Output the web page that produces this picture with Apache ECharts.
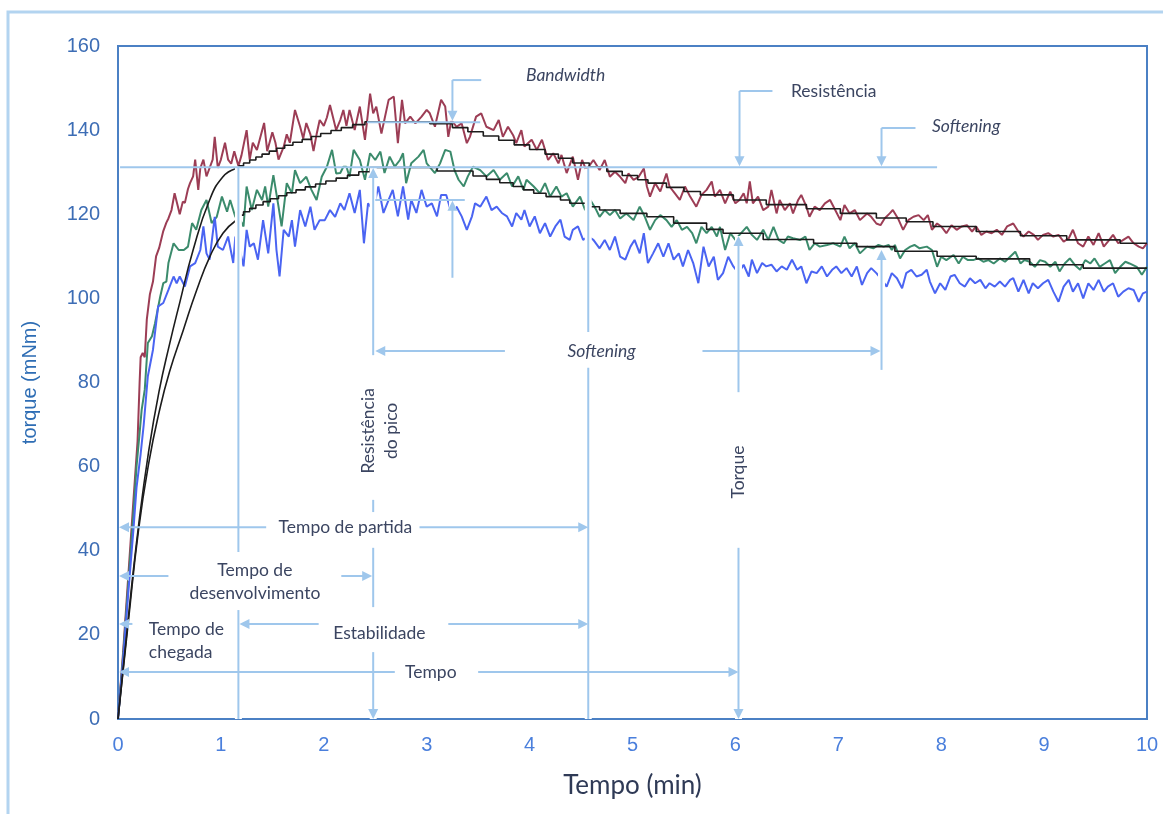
<!DOCTYPE html>
<html><head><meta charset="utf-8">
<script src="https://cdn.jsdelivr.net/npm/echarts@6/dist/echarts.min.js"></script>
<style>html,body{margin:0;padding:0;background:#fff}#c{width:1163px;height:814px}</style>
</head><body><div id="c"></div><script>
// ---- data: [time (min), torque (mNm)] ----
const redCurve = [[0,0],[0.05,16],[0.1,34],[0.15,52],[0.19,66],[0.21,80],[0.22,86],[0.24,87],[0.26,86],[0.28,95],[0.31,101],[0.34,104],[0.37,110],[0.4,112],[0.44,116],[0.47,118],[0.49,119],[0.52,121],[0.55,125],[0.58,122],[0.6,120],[0.63,123],[0.65,122.7],[0.68,126],[0.7,127.4],[0.73,129],[0.75,133],[0.78,125.8],[0.8,131],[0.83,133],[0.86,129],[0.89,131],[0.92,133],[0.94,138.4],[0.97,131],[1.0,133],[1.04,137],[1.07,133],[1.1,132],[1.13,135],[1.17,131.5],[1.2,134],[1.25,140],[1.28,133],[1.31,137],[1.35,135.3],[1.38,138],[1.42,141.7],[1.45,135],[1.5,139.5],[1.53,137],[1.56,133],[1.61,136],[1.64,139],[1.67,137],[1.72,144.8],[1.77,140.8],[1.8,138],[1.83,141.7],[1.87,139],[1.9,135],[1.93,139],[1.96,142.4],[2.0,141],[2.03,143],[2.06,146],[2.09,143],[2.12,140],[2.16,142.4],[2.19,144.8],[2.22,141],[2.25,144.8],[2.3,140],[2.35,145.6],[2.4,137.7],[2.45,148.7],[2.48,144],[2.51,145.6],[2.56,139.2],[2.63,147.2],[2.68,148],[2.72,136.9],[2.76,147.2],[2.79,141.6],[2.84,143.2],[2.89,141.6],[2.95,143.2],[3.0,144.8],[3.03,144],[3.08,140.8],[3.14,147.2],[3.18,145.6],[3.21,138.4],[3.24,142.4],[3.29,140.8],[3.34,141.6],[3.39,136.9],[3.42,138.4],[3.48,143.2],[3.53,144],[3.58,140.8],[3.65,140],[3.7,142.4],[3.74,138.4],[3.79,140.8],[3.84,138.8],[3.87,136.9],[3.92,140],[3.95,136.1],[4.02,137.7],[4.07,135.3],[4.12,137.7],[4.18,132.9],[4.23,134.5],[4.28,132.1],[4.31,134.1],[4.36,129.8],[4.42,133.7],[4.47,128.2],[4.51,132.9],[4.55,130.5],[4.62,132.9],[4.68,130.5],[4.73,132.9],[4.78,128.9],[4.83,130.1],[4.88,128.9],[4.93,127.4],[4.96,129.7],[5.01,128.2],[5.06,128.9],[5.11,130.9],[5.14,126.6],[5.17,124.2],[5.22,127.4],[5.27,125.4],[5.33,129.7],[5.36,126.6],[5.41,125],[5.46,123.4],[5.51,126.6],[5.56,124.2],[5.62,121.8],[5.67,124.6],[5.72,125.8],[5.77,127.8],[5.8,124.2],[5.85,125.8],[5.9,122.6],[5.95,125.4],[6.0,122.6],[6.04,123.4],[6.08,125],[6.11,122.6],[6.14,127.8],[6.17,122.6],[6.22,124.2],[6.27,121],[6.32,121.8],[6.35,125.8],[6.4,120.2],[6.43,123.4],[6.48,121],[6.53,122.6],[6.56,120.2],[6.61,123.4],[6.64,124.6],[6.69,121.8],[6.72,119.4],[6.77,121.8],[6.82,121],[6.87,122.6],[6.92,123.4],[6.97,121],[7.02,118.6],[7.06,122.2],[7.11,120.2],[7.16,121],[7.21,118.6],[7.28,120.2],[7.32,119.4],[7.37,117.8],[7.41,117.4],[7.45,119],[7.5,120.2],[7.53,121],[7.58,119],[7.63,116.3],[7.68,118.6],[7.73,119.4],[7.78,119.8],[7.83,118.6],[7.87,119.8],[7.91,116.3],[7.96,117.8],[8.0,117.1],[8.05,115.5],[8.1,117.4],[8.15,116.3],[8.2,117.1],[8.25,117.4],[8.3,115.9],[8.34,117.1],[8.39,115.1],[8.44,115.9],[8.49,115.5],[8.54,116.3],[8.59,115.1],[8.64,117.1],[8.7,117.8],[8.75,115.9],[8.8,114.7],[8.85,115.9],[8.9,115.1],[8.94,113.9],[8.99,115.1],[9.04,115.5],[9.09,114.7],[9.14,115.1],[9.19,113.5],[9.24,114.3],[9.28,116.3],[9.33,113.1],[9.38,112.3],[9.43,114.7],[9.48,112.7],[9.53,115.5],[9.58,112.3],[9.62,113.5],[9.67,115.1],[9.72,113.1],[9.77,113.9],[9.82,114.7],[9.87,113.1],[9.92,112.3],[9.96,111.9],[10.0,113.1]];

const greenCurve = [[0,0],[0.05,15],[0.1,32],[0.15,49],[0.18,60],[0.21,68],[0.23,73.5],[0.26,78.3],[0.29,89.4],[0.33,91],[0.36,94.1],[0.41,100.4],[0.44,103.6],[0.47,104],[0.49,108.4],[0.54,113.1],[0.59,111.5],[0.64,111.5],[0.68,112.3],[0.72,117.9],[0.76,116.3],[0.81,121],[0.86,123.4],[0.91,117.9],[0.96,119.4],[1.01,124.2],[1.06,120.6],[1.09,123.4],[1.14,119.4],[1.18,119],[1.22,117.1],[1.25,126.6],[1.3,121],[1.35,125.8],[1.4,123.4],[1.43,126.6],[1.46,121.8],[1.51,129.3],[1.56,121.8],[1.59,117.1],[1.64,127.4],[1.69,125],[1.72,130.5],[1.77,127.4],[1.83,128.9],[1.88,125.8],[1.93,123.4],[1.98,128.9],[2.03,131.3],[2.08,135.3],[2.12,129.7],[2.16,129.8],[2.19,131.3],[2.22,131.3],[2.25,128.9],[2.29,135.3],[2.35,132.9],[2.4,128.2],[2.45,134.5],[2.5,132.9],[2.55,134.9],[2.59,129.8],[2.64,133.7],[2.69,131.3],[2.74,132.9],[2.77,134.5],[2.8,127.4],[2.85,132.1],[2.92,133.7],[2.97,135.3],[3.0,132.1],[3.08,129.8],[3.13,132.1],[3.18,135.3],[3.23,134.9],[3.27,130.5],[3.31,128.2],[3.36,126.6],[3.4,129],[3.45,131.3],[3.52,130.5],[3.58,129],[3.65,130.5],[3.71,128.2],[3.78,129.8],[3.83,126.6],[3.89,129],[3.94,125.8],[3.97,128.2],[4.04,126.6],[4.1,125],[4.15,127.4],[4.2,124.2],[4.26,126.6],[4.31,124.2],[4.36,125],[4.42,121.8],[4.49,124.2],[4.54,121],[4.59,123.4],[4.64,121.4],[4.68,119.4],[4.73,121],[4.78,119.8],[4.83,121],[4.88,119],[4.94,120.2],[5.01,118.6],[5.07,121.8],[5.12,119.4],[5.17,116.3],[5.22,118.6],[5.27,119.8],[5.33,118.6],[5.38,117],[5.43,118.6],[5.48,116.3],[5.53,117],[5.58,115.5],[5.62,113.1],[5.67,117],[5.72,115.5],[5.77,117],[5.82,114.7],[5.85,117],[5.9,111.5],[5.95,115.5],[6.0,113.9],[6.04,115.1],[6.11,117],[6.16,115.1],[6.21,113.9],[6.27,116.3],[6.32,113.9],[6.37,117],[6.42,113.9],[6.47,113.1],[6.51,114.7],[6.56,114.3],[6.63,113.9],[6.68,114.7],[6.72,111.5],[6.77,113.1],[6.82,112.3],[6.89,112.7],[6.95,113.1],[7.02,112.3],[7.06,114.7],[7.11,111.9],[7.16,113.1],[7.21,110.7],[7.28,112.3],[7.34,111.9],[7.39,112.7],[7.44,112.3],[7.49,112.7],[7.52,111.5],[7.55,112.7],[7.6,109.5],[7.65,111.5],[7.7,112.3],[7.74,112.7],[7.79,111.9],[7.86,112.3],[7.91,111.5],[7.96,107.5],[8.0,109.9],[8.05,109.1],[8.12,110.3],[8.17,108.3],[8.21,109.9],[8.26,109.1],[8.31,109.1],[8.36,109.5],[8.41,108.7],[8.46,109.1],[8.51,108.3],[8.57,109.5],[8.62,108.7],[8.67,109.9],[8.72,111.1],[8.77,108.3],[8.81,109.1],[8.86,108.7],[8.91,107.5],[8.96,109.1],[9.01,108.7],[9.06,107.5],[9.11,108.7],[9.15,106.4],[9.2,108.3],[9.25,109.5],[9.3,107.9],[9.35,106.8],[9.4,109.1],[9.45,108.3],[9.49,109.5],[9.54,107.5],[9.59,108.3],[9.64,109.1],[9.69,106],[9.74,107.5],[9.79,108.7],[9.83,108.3],[9.9,107.5],[9.95,105.6],[10.0,107.5]];

const blueCurve = [[0,0],[0.05,14],[0.1,30],[0.15,45],[0.18,55],[0.22,63],[0.25,70],[0.29,81.5],[0.34,87.8],[0.39,98.1],[0.44,98.9],[0.49,102],[0.54,105.2],[0.57,103.6],[0.6,105.2],[0.65,102.8],[0.7,107.6],[0.75,108.4],[0.8,111.5],[0.83,117.1],[0.86,110.7],[0.89,109.2],[0.94,119.4],[0.97,112.3],[1.02,111.5],[1.07,114.7],[1.12,108.4],[1.14,114.7],[1.18,112],[1.22,107.6],[1.25,116.3],[1.28,112.3],[1.32,113.1],[1.36,109.2],[1.41,118.6],[1.46,110.7],[1.51,122.6],[1.54,111.5],[1.57,105.2],[1.61,116.3],[1.66,114.7],[1.69,118.6],[1.72,112.3],[1.77,121],[1.82,117.1],[1.87,121.8],[1.91,116.3],[1.96,118.6],[2.01,118.6],[2.06,121],[2.11,119.4],[2.16,122.6],[2.2,121],[2.25,125],[2.3,120.3],[2.35,125.8],[2.39,113.1],[2.43,122.6],[2.48,121],[2.53,126.6],[2.58,120.3],[2.63,123.4],[2.67,125.8],[2.72,119.5],[2.77,126.6],[2.82,118.7],[2.85,123.4],[2.9,120.3],[2.95,125.8],[3.0,121.8],[3.05,122.6],[3.1,119.5],[3.14,124.6],[3.19,124.6],[3.24,120.3],[3.29,121.8],[3.34,119.5],[3.39,116.3],[3.44,119.5],[3.47,122.6],[3.52,121.8],[3.58,124.2],[3.63,121],[3.68,121.8],[3.73,120.3],[3.78,119.5],[3.83,117.1],[3.87,120.3],[3.92,118.7],[3.95,121],[4.0,117.1],[4.05,119.5],[4.1,115.5],[4.15,117.9],[4.2,114.7],[4.25,117.1],[4.3,118.7],[4.34,114.7],[4.39,113.9],[4.42,116.3],[4.47,117.1],[4.52,113.9],[4.57,114.7],[4.62,113.9],[4.68,111.9],[4.73,113.9],[4.78,111.5],[4.83,114.7],[4.88,109.9],[4.93,109.2],[4.98,112.3],[5.02,113.9],[5.07,110.7],[5.11,115.5],[5.15,108.4],[5.2,110.7],[5.25,113.1],[5.3,109.9],[5.35,113.1],[5.4,109.2],[5.45,110.7],[5.49,107.6],[5.54,111.5],[5.59,108.4],[5.64,103.6],[5.69,112.3],[5.74,107.6],[5.79,109.9],[5.83,104.4],[5.88,106],[5.93,109.9],[5.98,107.6],[6.03,106],[6.08,108],[6.13,105.2],[6.16,109.2],[6.21,106],[6.26,108.4],[6.3,107.6],[6.35,108],[6.4,106.4],[6.45,107.6],[6.5,106.8],[6.55,109.2],[6.6,106.8],[6.64,107.6],[6.69,103.6],[6.74,106.4],[6.79,106],[6.84,107.6],[6.89,105.2],[6.94,106.8],[6.98,107.6],[7.03,106],[7.08,107.2],[7.13,105.2],[7.18,107.6],[7.23,103.2],[7.28,106],[7.32,107.2],[7.37,106],[7.42,104.5],[7.47,102.8],[7.52,106],[7.57,104.8],[7.62,102.4],[7.66,106],[7.71,106.8],[7.76,105.2],[7.81,105.6],[7.86,106.8],[7.89,104],[7.94,101.2],[7.99,103.6],[8.04,102],[8.09,105.2],[8.13,105.6],[8.18,103.6],[8.23,102.8],[8.28,104.8],[8.33,103.6],[8.38,104.4],[8.43,102.4],[8.47,103.6],[8.52,102.8],[8.57,104],[8.62,102.8],[8.67,104.4],[8.7,104.8],[8.75,101.6],[8.8,104.4],[8.85,101.2],[8.89,103.6],[8.94,102.4],[8.99,103.6],[9.04,104.4],[9.09,101.6],[9.14,99.2],[9.19,102.8],[9.24,104.4],[9.28,101.6],[9.33,103.6],[9.38,100],[9.43,103.6],[9.48,102],[9.53,104.4],[9.58,101.6],[9.62,102.8],[9.67,103.6],[9.72,100.4],[9.77,101.6],[9.82,102.4],[9.87,102],[9.92,99.2],[9.96,101.2],[10.0,101.6]];

// smoothed (black) curves: rising part and stepped part
const upperRise = [[0,0],[0.1,24],[0.2,46],[0.3,64],[0.4,78],[0.5,89],[0.6,99],[0.73,111.5],[0.89,123.4],[1.02,128.9],[1.14,130.8]];
const lowerRise = [[0,0],[0.1,23],[0.2,45],[0.3,61],[0.4,73],[0.5,82.5],[0.635,92.5],[0.765,102],[0.894,110],[1.02,115.5],[1.14,118.4]];
const upperSteps = [[1.17,131.5],[1.22,132.2],[1.28,132.9],[1.34,133.6],[1.4,134.3],[1.47,135],[1.54,135.7],[1.62,136.4],[1.7,137.1],[1.79,137.8],[1.88,138.5],[1.97,139.2],[2.07,139.9],[2.17,140.6],[2.28,141.3],[2.4,142],[3.03,141.5],[3.25,140.6],[3.4,139.6],[3.55,138.6],[3.7,137.6],[3.85,136.5],[4.0,135.4],[4.15,134.3],[4.28,133.3],[4.42,132.2],[4.58,131.3],[4.75,130.2],[4.9,129.2],[5.05,128.2],[5.15,127.4],[5.33,126.4],[5.5,125.4],[5.66,124.6],[5.98,123.4],[6.3,122.3],[6.69,121.3],[7.02,120.2],[7.37,119.1],[7.66,118.2],[7.92,117.1],[8.34,115.9],[8.77,114.9],[9.22,113.9],[9.74,113.1],[10,113.1]];
const lowerSteps = [[1.17,119.8],[1.22,120.6],[1.28,121.4],[1.34,122.2],[1.41,123],[1.48,123.7],[1.56,124.4],[1.64,125.1],[1.73,125.8],[1.82,126.5],[1.92,127.2],[2.02,127.9],[2.12,128.6],[2.23,129.3],[2.34,130.1],[2.45,131.1],[3.1,130.3],[3.45,129.1],[3.58,128.3],[3.71,127.5],[3.84,126.6],[3.94,125.8],[4.04,125],[4.16,124.2],[4.3,123.4],[4.39,122.6],[4.55,121.8],[4.68,121],[4.88,120.2],[5.14,119.4],[5.4,117.9],[5.72,116.4],[5.88,115.5],[6.27,114],[6.76,113.1],[7.18,112.3],[7.55,111.2],[7.96,110],[8.34,109.4],[8.86,108],[9.38,107.2],[10,107.1]];

// annotation segments: [t1, torque1, t2, torque2, arrowAtEnd]
const annoSegments = [
  [0.02,131.2,7.96,131.2,0],
  [2.42,141.9,3.52,141.9,0],
  [2.50,123.4,3.37,123.4,0],
  [3.25,151.9,3.53,151.9,0],
  [3.25,151.9,3.25,142.2,1],
  [3.25,104.9,3.25,123.2,1],
  [2.48,86.5,2.48,131.0,1],
  [2.48,52.1,2.48,49.2,0],
  [2.48,40.7,2.48,26.6,0],
  [2.48,15.9,2.48,0,1],
  [1.44,45.6,0.01,45.6,1],
  [2.93,45.6,4.57,45.6,1],
  [0.49,34.0,0.01,34.0,1],
  [2.17,34.0,2.47,34.0,1],
  [0.14,22.6,0.01,22.6,1],
  [1.95,22.6,1.18,22.6,1],
  [3.21,22.6,4.57,22.6,1],
  [2.69,11.2,0.01,11.2,1],
  [3.50,11.2,6.03,11.2,1],
  [1.17,131.2,1.17,39.7,0],
  [1.17,25.9,1.17,0,0],
  [4.57,130.9,4.57,92.0,0],
  [4.57,83.5,4.57,0,0],
  [6.04,149.3,6.36,149.3,0],
  [6.04,149.3,6.04,131.4,1],
  [6.03,77.7,6.03,114.8,1],
  [6.03,40.7,6.03,0,1],
  [7.42,140.5,7.75,140.5,0],
  [7.42,140.5,7.42,131.4,1],
  [7.42,83.0,7.42,111.5,1],
  [3.76,87.5,2.50,87.5,1],
  [5.68,87.5,7.41,87.5,1]
];
// annotation texts: [t, torque, text, rotated, italic, align]
const annoTexts = [
  [4.35,153.1,'Bandwidth',0,1,'center'],
  [6.54,149.1,'Resistência',0,0,'left'],
  [7.91,140.8,'Softening',0,1,'left'],
  [4.70,87.5,'Softening',0,1,'center'],
  [2.54,68.5,'Resistência\ndo pico',1,0,'center'],
  [6.03,58.7,'Torque',1,0,'center'],
  [2.21,45.6,'Tempo de partida',0,0,'center'],
  [1.33,32.6,'Tempo de\ndesenvolvimento',0,0,'center'],
  [0.30,18.5,'Tempo de\nchegada',0,0,'left'],
  [2.54,20.4,'Estabilidade',0,0,'center'],
  [3.04,11.2,'Tempo',0,0,'center']
];

const ANNO = '#9fc7ec';
const TXT = '#3b4561';

function renderSeg(params, api) {
  const s = annoSegments[params.dataIndex];
  const p1 = api.coord([s[0], s[1]]);
  const p2 = api.coord([s[2], s[3]]);
  const children = [];
  const vertical = Math.abs(p1[0] - p2[0]) < 0.5;
  let end = p2;
  if (vertical) {
    children.push({type:'line', z2:1, shape:{x1:p1[0],y1:p1[1],x2:p2[0],y2:p2[1]}, style:{stroke:'#fff', lineWidth:7}});
  }
  if (s[4]) {
    const dx = p2[0]-p1[0], dy = p2[1]-p1[1];
    const L = Math.hypot(dx, dy) || 1;
    const ux = dx/L, uy = dy/L, AL = 10, AW = 5;
    const bx = p2[0]-ux*AL, by = p2[1]-uy*AL;
    end = [bx + ux*2, by + uy*2];
    children.push({type:'polygon', z2:6, shape:{points:[[p2[0],p2[1]],[bx-uy*AW,by+ux*AW],[bx+uy*AW,by-ux*AW]]}, style:{fill:ANNO}});
  }
  children.push({type:'line', z2:5, shape:{x1:p1[0],y1:p1[1],x2:end[0],y2:end[1]}, style:{stroke:ANNO, lineWidth:2}});
  return {type:'group', children};
}

function renderText(params, api) {
  const a = annoTexts[params.dataIndex];
  const p = api.coord([a[0], a[1]]);
  return {type:'text', x:p[0], y:p[1], z2:8, rotation: a[3] ? Math.PI/2 : 0,
    style:{text:a[2], fill:TXT, font:(a[4]?'italic ':'') + '17.5px Lato, "Open Sans", sans-serif',
      align:a[5], verticalAlign:'middle', lineHeight:23}};
}

const chart = echarts.init(document.getElementById('c'), null, {renderer:'canvas'});
const lineBase = {type:'line', showSymbol:false, symbol:'none', animation:false, silent:true};
chart.setOption({
  animation:false,
  backgroundColor:'#fff',
  graphic:[{type:'rect', silent:true, z:-10, shape:{x:8, y:12, width:1200, height:900}, style:{fill:'none', stroke:'#b3d4f0', lineWidth:3}}],
  grid:{left:118, top:46, right:16, bottom:95, show:true, borderColor:'#4b80c4', borderWidth:2, backgroundColor:'rgba(0,0,0,0)'},
  xAxis:{type:'value', min:0, max:10, interval:1,
    axisLine:{show:false}, axisTick:{show:false}, splitLine:{show:false},
    axisLabel:{color:'#4a7fdc', fontSize:20, margin:16, fontFamily:'Liberation Sans'},
    name:'Tempo (min)', nameLocation:'middle', nameGap:54,
    nameTextStyle:{color:'#2f3a56', fontSize:26, fontFamily:'Lato'}},
  yAxis:{type:'value', min:0, max:160, interval:20,
    axisLine:{show:false}, axisTick:{show:false}, splitLine:{show:false},
    axisLabel:{color:'#3d6db5', fontSize:20, margin:18, fontFamily:'Liberation Sans'},
    name:'torque (mNm)', nameLocation:'middle', nameGap:78, nameRotate:90,
    nameTextStyle:{color:'#2e6db4', fontSize:20, fontFamily:'Liberation Sans', padding:[0,0,0,0]}},
  series:[
    Object.assign({}, lineBase, {name:'red', data:redCurve, lineStyle:{color:'#9c3d55', width:2}, z:2}),
    Object.assign({}, lineBase, {name:'green', data:greenCurve, lineStyle:{color:'#3b8b6c', width:2}, z:2}),
    Object.assign({}, lineBase, {name:'blue', data:blueCurve, lineStyle:{color:'#4a64f2', width:2}, z:2}),
    Object.assign({}, lineBase, {name:'upperRise', data:upperRise, smooth:true, lineStyle:{color:'#1c1c1c', width:1.6}, z:3}),
    Object.assign({}, lineBase, {name:'lowerRise', data:lowerRise, smooth:true, lineStyle:{color:'#1c1c1c', width:1.6}, z:3}),
    Object.assign({}, lineBase, {name:'upperSteps', data:upperSteps, step:'end', lineStyle:{color:'#1c1c1c', width:1.6}, z:3}),
    Object.assign({}, lineBase, {name:'lowerSteps', data:lowerSteps, step:'end', lineStyle:{color:'#1c1c1c', width:1.6}, z:3}),
    {type:'custom', name:'segments', renderItem:renderSeg, data:annoSegments, encode:{x:[0,2], y:[1,3]}, clip:false, silent:true, z:5, animation:false},
    {type:'custom', name:'texts', renderItem:renderText, data:annoTexts.map(a => [a[0], a[1]]), encode:{x:0, y:1}, clip:false, silent:true, z:6, animation:false}
  ]
});
</script></body></html>
